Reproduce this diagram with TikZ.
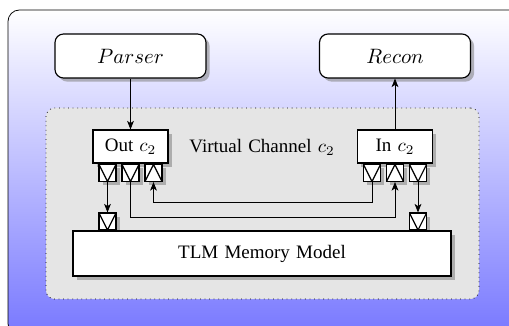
\documentclass[tikz,border=0pt]{standalone}
\usepackage{fontspec}
\setmainfont[WordSpace=1.3]{Liberation Serif}
\usetikzlibrary{shadows,arrows.meta}
% one drawing unit
\newcommand\pxu{0.526pt}
\tikzset{
  shad/.style={drop shadow={shadow xshift=1.9pt, shadow yshift=-1.9pt, opacity=.55, fill=black!50}},
  procbox/.style={draw, semithick, fill=white, rounded corners=4.5pt, inner sep=0pt,
    minimum width=151*\pxu, minimum height=44*\pxu, font=\fontsize{11}{13}\selectfont, shad},
  chanbox/.style={draw, semithick, fill=white, inner sep=0pt,
    minimum width=75*\pxu, minimum height=33*\pxu, shad},
  port/.style={draw, semithick, fill=white, inner sep=0pt,
    minimum width=17*\pxu, minimum height=17*\pxu, shad},
  portdown/.style={port, path picture={\draw[semithick]
    (path picture bounding box.north west) -- (path picture bounding box.south)
    -- (path picture bounding box.north east);}},
  portup/.style={port, path picture={\draw[semithick]
    (path picture bounding box.south west) -- (path picture bounding box.north)
    -- (path picture bounding box.south east);}},
  membox/.style={draw, semithick, fill=white, inner sep=0pt,
    minimum width=378*\pxu, minimum height=45*\pxu, shad},
  region/.style={draw, dotted, fill=gray!20, rounded corners=4.5pt, inner sep=0pt},
  link/.style={-{Stealth[length=4.5pt,width=3.6pt,inset=1.2pt]}, thin},
}
\begin{document}
\begin{tikzpicture}[x=\pxu, y=-\pxu]
\useasboundingbox (0,0) rectangle (509,325);
\clip (0,0) rectangle (509,325);

% background frame with vertical shading
\shade[draw=black, thin, rounded corners=6pt, top color=white, bottom color={rgb,255:red,120;green,120;blue,255}]
  (8,10) rectangle (545,335);

% virtual channel area
\node[region, minimum width=433*\pxu, minimum height=191*\pxu] (vc) at (262.5,203.5) {};

% processes
\node[procbox] (parser) at (130.5,56) {$Parser$};
\node[procbox] (recon) at (395,56) {$Recon$};

% channel ends
\node[chanbox] (out) at (130.5,146.5) {Out $c_2$};
\node[chanbox] (in) at (395,146.5) {In $c_2$};
\node (vclabel) at (262,147) {Virtual Channel $c_2$};

% ports of the channel ends
\node[portdown] (op1) at (107.5,173) {};
\node[portdown] (op2) at (130.5,173) {};
\node[portup]   (op3) at (153.5,173) {};
\node[portdown] (ip1) at (372,173) {};
\node[portup]   (ip2) at (395,173) {};
\node[portdown] (ip3) at (418,173) {};

% memory ports and memory model
\node[portdown] (mp1) at (107.5,221.5) {};
\node[portdown] (mp2) at (418,221.5) {};
\node[membox] (mem) at (262,253.5) {TLM Memory Model};

% connections
\coordinate (busA) at (0,202);
\coordinate (busB) at (0,217);
\draw[link] (parser.south) -- (out.north);
\draw[link] (in.north) -- (recon.south);
\draw[link] (op1.south) -- (mp1.north);
\draw[link] (ip3.south) -- (mp2.north);
\draw[link] (ip1.south) |- (op3 |- busA) -- (op3.south);
\draw[link] (op2.south) |- (ip2 |- busB) -- (ip2.south);
\end{tikzpicture}
\end{document}
